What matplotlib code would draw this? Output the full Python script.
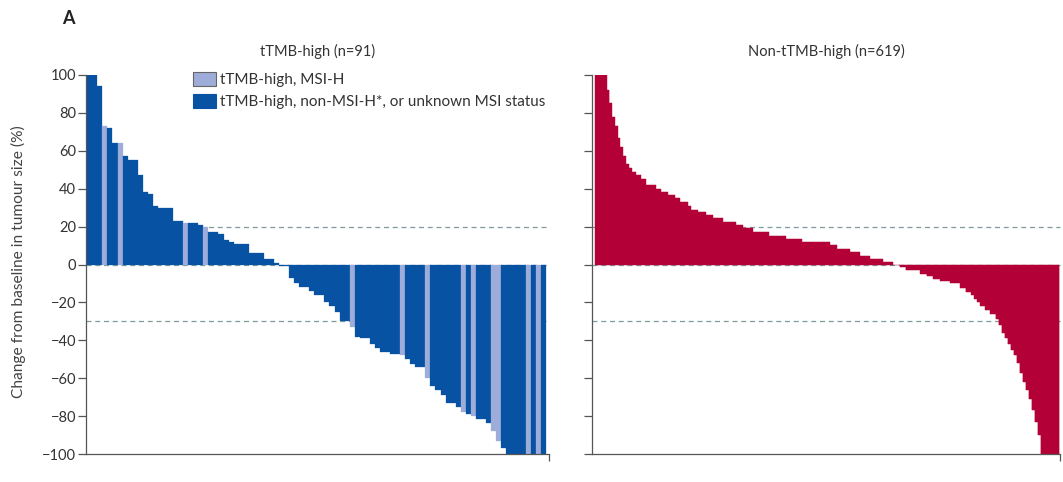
import numpy as np
import matplotlib
matplotlib.use("Agg")
import matplotlib.pyplot as plt
from matplotlib.patches import Patch

plt.rcParams['font.family'] = ['Lato', 'DejaVu Sans']

# tTMB-high panel: one value per patient, sorted (percent change)
high_vals = [100, 100, 94, 73, 72, 64, 64, 57, 55, 55, 47, 38, 37, 31, 30, 30, 30,
             23, 23, 22, 22, 22, 21, 20, 17, 17, 16, 13, 12, 11, 11, 11, 6, 6, 6,
             3, 3, 1, -0.8, -0.8, -7, -10, -12, -12, -14, -16, -16, -20, -22, -25,
             -30, -30, -33, -38, -39, -39, -42, -44, -46, -46, -47, -47, -48, -50,
             -52.5, -54, -54, -60, -64, -66, -69, -73, -73, -75, -78, -79, -80,
             -81.5, -81.5, -83.5, -88, -93, -97, -100, -100, -100, -100, -100,
             -100, -100, -100]
# 1 = MSI-H (light bars)
high_msi = [0] * 91
for i in [3, 6, 19, 23, 52, 62, 67, 74, 76, 80, 81, 87, 89]:
    high_msi[i] = 1

# non-tTMB-high panel: steps of the sorted waterfall (value, number of bars)
low_step_vals = [100, 92, 85, 78, 73, 67, 62, 57, 53, 51, 49, 47, 45, 42, 40, 38,
                 36.5, 35, 33, 31, 29, 27.5, 26, 24.5, 22.5, 21, 19, 17, 15, 13.5,
                 12, 10.5, 8, 6.5, 4.5, 3, 1.5,
                 -0.5, -1.5, -3, -5, -6, -7.5, -8.5, -10, -12.5, -14.5, -16, -18,
                 -20, -22, -24, -26, -29, -32, -36, -39, -42, -45, -48, -52, -57,
                 -62, -66, -71, -77, -83, -90, -100]
low_step_counts = [16, 3, 3, 4, 4, 3, 4, 4, 4, 4, 5, 7, 7, 13, 7, 9,
                   9, 7, 11, 4, 9, 11, 9, 13, 18, 9, 13, 22, 22, 22,
                   37, 9, 18, 13, 13, 18, 13,
                   10, 7, 19, 9, 9, 9, 13, 14, 7, 7, 4, 4,
                   4, 7, 7, 7, 4, 4, 4, 4, 4, 4, 4, 4, 4,
                   4, 4, 4, 4, 4, 4, 25]
low_vals = np.repeat(low_step_vals, low_step_counts)

dark_blue = '#0752a2'
light_blue = '#9eacd9'
crimson = '#b30036'
dash_col = '#7e9b9b'
spine_col = '#555555'

fig = plt.figure(figsize=(10.63, 4.82), dpi=100)
ax1 = fig.add_axes([86 / 1063, 1 - 454 / 482, 463 / 1063, 379 / 482])
ax2 = fig.add_axes([592 / 1063, 1 - 454 / 482, 468 / 1063, 379 / 482])

x1 = np.arange(len(high_vals))
cols = [light_blue if m else dark_blue for m in high_msi]
ax1.bar(x1, high_vals, width=1.0, color=cols, edgecolor=cols, linewidth=0.2, zorder=2)
ax1.set_xlim(-0.75, 91.0)

x2 = np.arange(len(low_vals))
ax2.bar(x2, low_vals, width=1.0, color=crimson, edgecolor=crimson, linewidth=0.3, zorder=2)
ax2.set_xlim(-4.5, 619.5)

for ax in (ax1, ax2):
    ax.set_ylim(-100, 100)
    for yv in (20, 0, -30):
        ax.axhline(yv, color=dash_col, lw=0.9, ls=(0, (4, 3)), zorder=1, clip_on=False)
    ax.spines['top'].set_visible(False)
    ax.spines['right'].set_visible(False)
    ax.spines['left'].set_color(spine_col)
    ax.spines['bottom'].set_color(spine_col)
    ax.spines['left'].set_linewidth(0.9)
    ax.spines['bottom'].set_linewidth(0.9)
    ax.set_yticks(np.arange(-100, 101, 20))
    ax.set_xticks([ax.get_xlim()[1]])
    ax.set_xticklabels([])
    ax.tick_params(axis='y', direction='out', length=6, width=0.9, color=spine_col,
                   labelsize=10.5, labelcolor='#333333', pad=1)
    ax.tick_params(axis='x', direction='out', length=5, width=0.9, color=spine_col)

ax2.set_yticklabels([])

ax1.set_title('tTMB-high (n=91)', fontsize=10.5, color='#333333', pad=14)
ax2.set_title('Non-tTMB-high (n=619)', fontsize=10.5, color='#333333', pad=14)

fig.text(62 / 1063, 1 - 18 / 482, 'A', fontsize=13, fontweight='bold', color='#222222',
         va='center', ha='left')
fig.text(18 / 1063, 1 - 262 / 482, 'Change from baseline in tumour size (%)', rotation=90,
         fontsize=11.2, color='#444444', va='center', ha='center')

handles = [Patch(facecolor=light_blue, edgecolor='#666666', linewidth=0.8),
           Patch(facecolor=dark_blue, edgecolor=dark_blue, linewidth=0.8)]
labels = ['tTMB-high, MSI-H', 'tTMB-high, non-MSI-H*, or unknown MSI status']
fig.legend(handles, labels, loc='upper left', bbox_to_anchor=(193 / 1063, 1 - 72 / 482),
           frameon=False, fontsize=11, handlelength=1.5, handleheight=1.0,
           handletextpad=0.3, labelspacing=0.45, borderaxespad=0, borderpad=0,
           labelcolor='#333333')

fig.savefig('out.png', dpi=100)
